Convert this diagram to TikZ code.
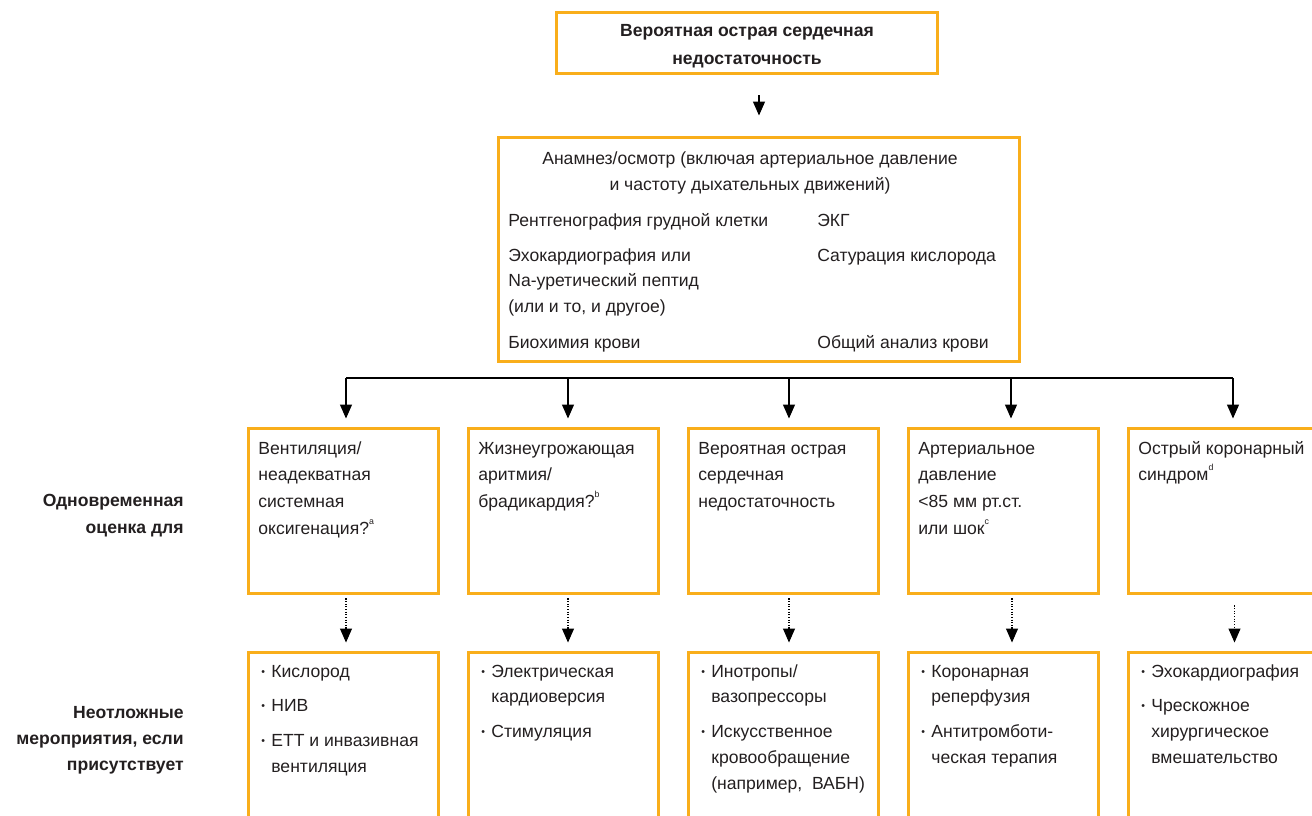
\documentclass[tikz,border=0pt]{standalone}
\usepackage{fontspec}
\setmainfont{Liberation Sans}
\usetikzlibrary{arrows.meta}
\definecolor{boxorange}{HTML}{F9AE1B}
\definecolor{textgray}{HTML}{231F20}
\newcommand{\supnote}[1]{\raisebox{1.1ex}{\fontsize{5}{5}\selectfont #1}}
\newcommand{\blt}{\makebox[0.2cm][l]{\fontsize{6}{6}\selectfont\raisebox{0.35ex}{•}}}
\newcommand{\ind}{\hspace*{0.2cm}}
\newcommand{\leftlines}[1]{\begin{tabular}[t]{@{}l@{}}#1\end{tabular}}
\newcommand{\centerlines}[1]{\begin{tabular}[t]{@{}c@{}}#1\end{tabular}}
\newcommand{\rightlines}[1]{\begin{tabular}[t]{@{}r@{}}#1\end{tabular}}
\tikzset{
  >={Triangle[width=0.24cm,length=0.28cm]},
  orangebox/.style={draw=boxorange, line width=0.06cm, inner sep=0pt},
  evalbox/.style={orangebox, minimum width=3.8cm, minimum height=3.32cm},
  actbox/.style={orangebox, minimum width=3.8cm, minimum height=4.4cm},
  bodytext/.style={inner sep=0pt, anchor=base west, text=textgray, font=\fontsize{10}{15.3}\selectfont},
  acttext/.style={bodytext, font=\fontsize{10}{14.7}\selectfont},
  sidelabel/.style={inner sep=0pt, anchor=base east, text=textgray, font=\fontsize{10}{15.6}\selectfont\bfseries},
  arrowline/.style={->, line width=0.7pt, shorten >=0.16cm},
  dotarrow/.style={->, line width=0.6pt, dash pattern=on 0.6pt off 0.9pt, shorten <=0.06cm, shorten >=0.16cm},
}
\begin{document}
\begin{tikzpicture}[x=0.02cm, y=-0.02cm]
    \clip (0,0) rectangle (1312,815);

    % Start
    \node[orangebox, minimum width=7.64cm, minimum height=1.24cm] (start) at (747,43) {};
    \node[bodytext, anchor=base, font=\fontsize{10}{16}\selectfont\bfseries] (starttext) at (747,36) {\centerlines{Вероятная острая сердечная\\недостаточность}};

    % History and tests
    \node[orangebox, minimum width=10.44cm, minimum height=4.5cm] (info) at (759,249.5) {};
    \node[bodytext, anchor=base] (history) at (750,164) {\centerlines{Анамнез/осмотр (включая артериальное давление\\и частоту дыхательных движений)}};
    \node[bodytext] (xray) at (508,226) {Рентгенография грудной клетки};
    \node[bodytext] (ecg) at (817,226) {ЭКГ};
    \node[bodytext, font=\fontsize{10}{14.7}\selectfont] (echo) at (508,261) {\leftlines{Эхокардиография или\\Na-уретический пептид\\(или и то, и другое)}};
    \node[bodytext] (sat) at (817,261) {Сатурация кислорода};
    \node[bodytext] (chem) at (508,348) {Биохимия крови};
    \node[bodytext] (blood) at (817,348) {Общий анализ крови};

    % Side labels
    \node[sidelabel] (evallabel) at (184,506) {\rightlines{Одновременная\\оценка для}};
    \node[sidelabel, font=\fontsize{10}{15}\selectfont\bfseries] (actlabel) at (184,718) {\rightlines{Неотложные\\мероприятия, если\\присутствует}};

    % Evaluation boxes
    \node[evalbox] (e1) at (343.5,511) {};
    \node[evalbox] (e2) at (563.5,511) {};
    \node[evalbox] (e3) at (783.5,511) {};
    \node[evalbox] (e4) at (1003.5,511) {};
    \node[evalbox] (e5) at (1223.5,511) {};

    \node[bodytext] (e1text) at (258,454) {\leftlines{Вентиляция/\\неадекватная\\системная\\оксигенация?\supnote{a}}};
    \node[bodytext] (e2text) at (478,454) {\leftlines{Жизнеугрожающая\\аритмия/\\брадикардия?\supnote{b}}};
    \node[bodytext] (e3text) at (698,454) {\leftlines{Вероятная острая\\сердечная\\недостаточность}};
    \node[bodytext] (e4text) at (918,454) {\leftlines{Артериальное\\давление\\<85 мм рт.ст.\\или шок\supnote{c}}};
    \node[bodytext] (e5text) at (1138,454) {\leftlines{Острый коронарный\\синдром\supnote{d}}};

    % Action boxes
    \node[actbox] (a1) at (343.5,762) {};
    \node[actbox] (a2) at (563.5,762) {};
    \node[actbox] (a3) at (783.5,762) {};
    \node[actbox] (a4) at (1003.5,762) {};
    \node[actbox] (a5) at (1223.5,762) {};

    \node[acttext] (a1text) at (261,677) {\leftlines{\blt Кислород\\[0.18cm]\blt НИВ\\[0.18cm]\blt ЕТТ и инвазивная\\\ind вентиляция}};
    \node[acttext] (a2text) at (481,677) {\leftlines{\blt Электрическая\\\ind кардиоверсия\\[0.18cm]\blt Стимуляция}};
    \node[acttext] (a3text) at (701,677) {\leftlines{\blt Инотропы/\\\ind вазопрессоры\\[0.18cm]\blt Искусственное\\\ind кровообращение\\\ind (например,\ \ ВАБН)}};
    \node[acttext] (a4text) at (921,677) {\leftlines{\blt Коронарная\\\ind реперфузия\\[0.18cm]\blt Антитромботи-\\\ind ческая терапия}};
    \node[acttext] (a5text) at (1141,677) {\leftlines{\blt Эхокардиография\\[0.18cm]\blt Чрескожное\\\ind хирургическое\\\ind вмешательство}};

    % Bus
    \coordinate (bus) at (759,378);

    % Arrows
    \draw[arrowline, shorten <=0.4cm, shorten >=0.4cm] (start.south -| info.north) -- (info.north);
    \draw[line width=0.7pt] ([xshift=0.05cm]bus -| e1) -- ([xshift=0.19cm]bus -| e5);
    \draw[arrowline] ([xshift=0.05cm]bus -| e1) -- ([xshift=0.05cm]e1.north);
    \draw[arrowline] ([xshift=0.09cm]bus -| e2) -- ([xshift=0.09cm]e2.north);
    \draw[arrowline] ([xshift=0.11cm]bus -| e3) -- ([xshift=0.11cm]e3.north);
    \draw[arrowline] ([xshift=0.15cm]bus -| e4) -- ([xshift=0.15cm]e4.north);
    \draw[arrowline] ([xshift=0.19cm]bus -| e5) -- ([xshift=0.19cm]e5.north);

    \draw[dotarrow] ([xshift=0.05cm]e1.south) -- ([xshift=0.05cm]a1.north);
    \draw[dotarrow] ([xshift=0.09cm]e2.south) -- ([xshift=0.09cm]a2.north);
    \draw[dotarrow] ([xshift=0.11cm]e3.south) -- ([xshift=0.11cm]a3.north);
    \draw[dotarrow] ([xshift=0.17cm]e4.south) -- ([xshift=0.17cm]a4.north);
    \draw[dotarrow, shorten <=0.2cm] ([xshift=0.22cm]e5.south) -- ([xshift=0.22cm]a5.north);
\end{tikzpicture}
\end{document}
